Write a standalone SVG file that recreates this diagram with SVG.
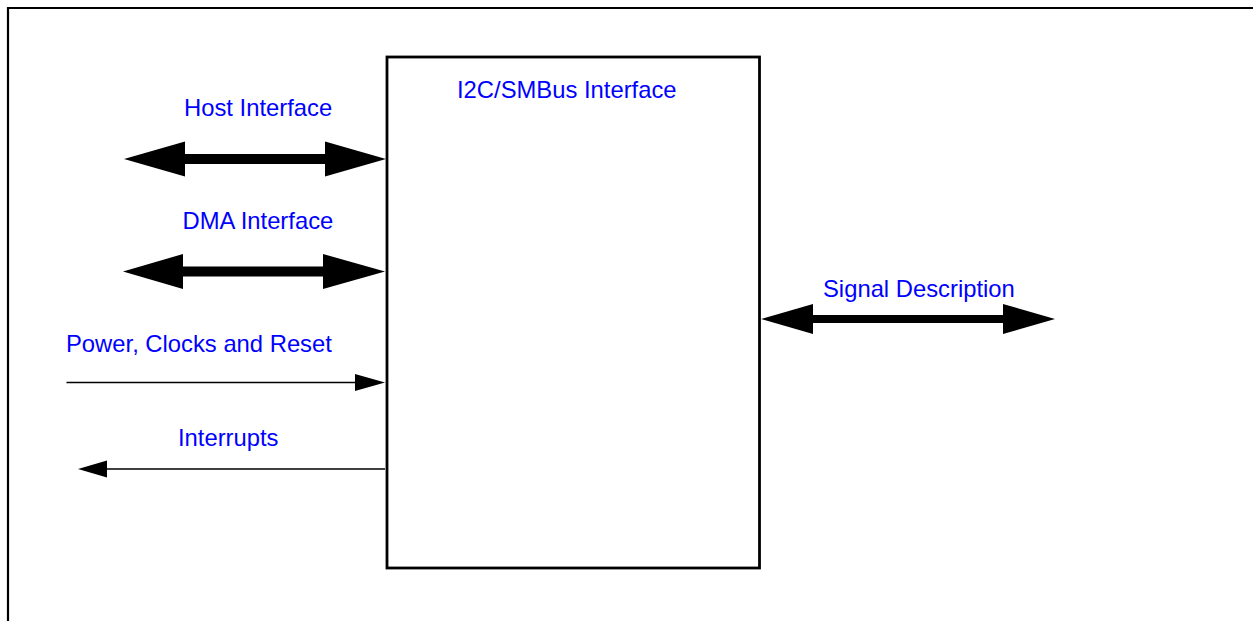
<svg xmlns="http://www.w3.org/2000/svg" width="1253" height="621" viewBox="0 0 1253 621">
<style>
.lbl{font-family:"Liberation Sans",Arial,sans-serif;font-size:23.8px;fill:#0000FF}
.frame{fill:none;stroke:#000;stroke-width:2.2}
.box{fill:#fff;stroke:#000;stroke-width:2.8}
.head{fill:#000}
.thin{stroke:#000;stroke-width:1.6;fill:none}
</style>
<rect x="0" y="0" width="1253" height="621" fill="#fff"/>
<path class="frame" d="M8,622 L8,8 L1254,8"/>
<g id="i2c-smbus">
<rect class="box" x="387" y="57" width="372.5" height="511"/>
<text class="lbl" x="457" y="98">I2C/SMBus Interface</text>
</g>
<g id="host-interface">
<text class="lbl" x="184" y="116">Host Interface</text>
</g>
<g id="dma-interface">
<text class="lbl" x="182.5" y="229">DMA Interface</text>
</g>
<g id="power-clocks-reset">
<text class="lbl" x="66" y="352">Power, Clocks and Reset</text>
</g>
<g id="interrupts">
<text class="lbl" x="178" y="446">Interrupts</text>
</g>
<g id="signal-description">
<text class="lbl" x="823" y="297">Signal Description</text>
</g>
<g id="connectors">
<rect x="184" y="154" width="142" height="10" fill="#000"/>
<polygon class="head" points="124,159 185,141.5 185,176.5"/>
<polygon class="head" points="386,159 325,141.5 325,176.5"/>
<rect x="182" y="266.5" width="142" height="10" fill="#000"/>
<polygon class="head" points="123,271.5 183,254 183,289"/>
<polygon class="head" points="385,271.5 323,254 323,289"/>
<rect x="812" y="315" width="192" height="8" fill="#000"/>
<polygon class="head" points="761,319 813,304 813,334"/>
<polygon class="head" points="1055,319 1003,304 1003,334"/>
<line class="thin" x1="66.5" y1="382.5" x2="357" y2="382.5"/>
<polygon class="head" points="385,382.5 355,374 355,391"/>
<line class="thin" x1="385" y1="469" x2="105" y2="469"/>
<polygon class="head" points="78,469 107,460.5 107,477.5"/>
</g>
</svg>
